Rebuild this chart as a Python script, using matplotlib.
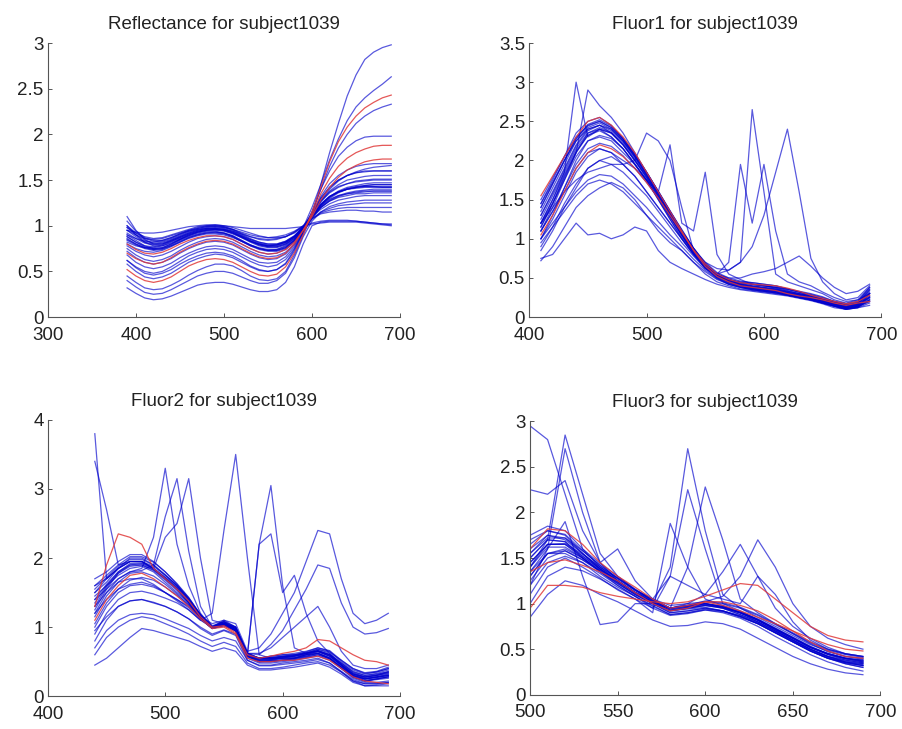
import numpy as np
import matplotlib.pyplot as plt

plt.rcParams['font.family'] = ['Liberation Sans', 'DejaVu Sans']

subject = 'subject1039'

# ---- Reflectance spectra (390-690 nm, 10 nm steps)
refl_wl = list(range(390, 700, 10))
refl_curves = [
    [1.10, 0.95, 0.85, 0.80, 0.80, 0.83, 0.87, 0.91, 0.94, 0.96, 0.97, 0.96, 0.93, 0.88, 0.83, 0.79, 0.77, 0.77, 0.80, 0.87, 0.97, 1.10, 1.22, 1.30, 1.36, 1.40, 1.42, 1.44, 1.45, 1.45, 1.45],
    [0.95, 0.93, 0.92, 0.92, 0.93, 0.95, 0.97, 0.99, 1.00, 1.01, 1.01, 1.00, 0.99, 0.98, 0.97, 0.97, 0.97, 0.97, 0.97, 0.98, 0.99, 1.02, 1.03, 1.04, 1.04, 1.04, 1.04, 1.03, 1.02, 1.01, 1.00],
    [0.90, 0.84, 0.78, 0.75, 0.76, 0.80, 0.85, 0.89, 0.92, 0.94, 0.94, 0.92, 0.88, 0.83, 0.78, 0.74, 0.72, 0.72, 0.75, 0.83, 0.96, 1.12, 1.28, 1.40, 1.49, 1.55, 1.59, 1.62, 1.64, 1.65, 1.66],
    [0.85, 0.80, 0.76, 0.74, 0.75, 0.78, 0.82, 0.86, 0.89, 0.91, 0.91, 0.90, 0.87, 0.83, 0.79, 0.76, 0.74, 0.74, 0.77, 0.84, 0.96, 1.09, 1.20, 1.27, 1.32, 1.35, 1.37, 1.38, 1.38, 1.38, 1.38],
    [0.70, 0.64, 0.60, 0.58, 0.60, 0.65, 0.71, 0.76, 0.80, 0.83, 0.84, 0.83, 0.80, 0.75, 0.70, 0.66, 0.64, 0.65, 0.70, 0.80, 0.95, 1.12, 1.35, 1.52, 1.65, 1.74, 1.80, 1.84, 1.87, 1.88, 1.88],
    [0.82, 0.78, 0.76, 0.76, 0.78, 0.82, 0.86, 0.90, 0.93, 0.95, 0.95, 0.94, 0.91, 0.87, 0.83, 0.80, 0.78, 0.79, 0.82, 0.88, 0.98, 1.20, 1.45, 1.72, 1.95, 2.15, 2.30, 2.40, 2.48, 2.55, 2.63],
    [0.45, 0.38, 0.32, 0.30, 0.31, 0.35, 0.40, 0.46, 0.51, 0.55, 0.58, 0.58, 0.56, 0.51, 0.45, 0.41, 0.40, 0.42, 0.50, 0.68, 0.90, 1.12, 1.45, 1.80, 2.12, 2.42, 2.65, 2.82, 2.90, 2.95, 2.98],
    [0.32, 0.26, 0.21, 0.19, 0.20, 0.23, 0.27, 0.31, 0.35, 0.37, 0.38, 0.38, 0.36, 0.33, 0.30, 0.28, 0.28, 0.30, 0.38, 0.55, 0.80, 1.00, 1.04, 1.05, 1.05, 1.05, 1.05, 1.04, 1.03, 1.02, 1.01],
    [0.52, 0.45, 0.40, 0.38, 0.40, 0.44, 0.50, 0.56, 0.60, 0.63, 0.64, 0.63, 0.60, 0.55, 0.50, 0.46, 0.45, 0.47, 0.55, 0.70, 0.90, 1.15, 1.42, 1.70, 1.92, 2.08, 2.20, 2.29, 2.35, 2.40, 2.43],
    [0.62, 0.54, 0.48, 0.46, 0.48, 0.52, 0.58, 0.63, 0.67, 0.70, 0.71, 0.70, 0.67, 0.62, 0.56, 0.52, 0.50, 0.52, 0.58, 0.72, 0.92, 1.15, 1.40, 1.65, 1.85, 2.00, 2.12, 2.20, 2.26, 2.30, 2.33],
    [0.80, 0.74, 0.70, 0.69, 0.71, 0.75, 0.80, 0.84, 0.87, 0.89, 0.89, 0.88, 0.85, 0.80, 0.75, 0.71, 0.69, 0.70, 0.74, 0.82, 0.95, 1.10, 1.28, 1.42, 1.53, 1.61, 1.66, 1.70, 1.72, 1.73, 1.73],
    [0.75, 0.68, 0.63, 0.61, 0.63, 0.67, 0.73, 0.78, 0.82, 0.85, 0.86, 0.85, 0.82, 0.77, 0.72, 0.68, 0.66, 0.67, 0.71, 0.80, 0.95, 1.15, 1.40, 1.60, 1.76, 1.86, 1.93, 1.97, 1.98, 1.98, 1.98],
    [0.98, 0.92, 0.88, 0.86, 0.87, 0.90, 0.93, 0.96, 0.99, 1.00, 1.01, 1.00, 0.98, 0.95, 0.92, 0.89, 0.87, 0.87, 0.88, 0.92, 0.99, 1.08, 1.13, 1.15, 1.16, 1.17, 1.17, 1.16, 1.16, 1.15, 1.15],
    [0.40, 0.33, 0.27, 0.25, 0.26, 0.30, 0.35, 0.40, 0.45, 0.48, 0.50, 0.50, 0.48, 0.44, 0.40, 0.37, 0.37, 0.40, 0.48, 0.65, 0.88, 1.05, 1.15, 1.21, 1.24, 1.26, 1.27, 1.28, 1.28, 1.28, 1.28],
    [0.88, 0.82, 0.77, 0.75, 0.76, 0.80, 0.85, 0.90, 0.93, 0.95, 0.96, 0.95, 0.92, 0.87, 0.82, 0.78, 0.76, 0.76, 0.79, 0.86, 0.98, 1.12, 1.26, 1.36, 1.42, 1.46, 1.49, 1.50, 1.51, 1.51, 1.51],
    [0.58, 0.50, 0.44, 0.42, 0.44, 0.48, 0.54, 0.60, 0.64, 0.67, 0.69, 0.68, 0.65, 0.60, 0.55, 0.51, 0.50, 0.52, 0.59, 0.74, 0.93, 1.10, 1.24, 1.32, 1.37, 1.40, 1.42, 1.43, 1.43, 1.42, 1.42],
    [1.00, 0.90, 0.82, 0.78, 0.78, 0.81, 0.85, 0.89, 0.93, 0.95, 0.96, 0.95, 0.92, 0.88, 0.83, 0.79, 0.77, 0.77, 0.80, 0.86, 0.98, 1.14, 1.30, 1.42, 1.50, 1.55, 1.58, 1.60, 1.60, 1.60, 1.60],
    [0.68, 0.60, 0.55, 0.53, 0.55, 0.59, 0.65, 0.70, 0.74, 0.77, 0.78, 0.77, 0.74, 0.69, 0.64, 0.60, 0.59, 0.60, 0.66, 0.77, 0.93, 1.08, 1.20, 1.27, 1.31, 1.33, 1.35, 1.35, 1.36, 1.36, 1.36],
    [0.92, 0.86, 0.81, 0.79, 0.80, 0.84, 0.88, 0.92, 0.95, 0.97, 0.98, 0.97, 0.94, 0.89, 0.84, 0.80, 0.78, 0.78, 0.81, 0.88, 0.98, 1.10, 1.20, 1.28, 1.33, 1.36, 1.38, 1.39, 1.40, 1.40, 1.40],
    [0.98, 0.90, 0.84, 0.81, 0.82, 0.85, 0.89, 0.93, 0.96, 0.98, 0.99, 0.98, 0.95, 0.90, 0.85, 0.81, 0.79, 0.79, 0.82, 0.88, 0.98, 1.11, 1.23, 1.32, 1.38, 1.42, 1.44, 1.46, 1.47, 1.47, 1.47],
    [0.86, 0.80, 0.76, 0.74, 0.75, 0.79, 0.84, 0.88, 0.91, 0.93, 0.93, 0.92, 0.89, 0.84, 0.79, 0.75, 0.73, 0.73, 0.76, 0.84, 0.96, 1.12, 1.27, 1.38, 1.45, 1.50, 1.52, 1.54, 1.55, 1.55, 1.55],
    [1.05, 0.94, 0.87, 0.84, 0.84, 0.87, 0.91, 0.95, 0.98, 1.00, 1.00, 0.99, 0.96, 0.92, 0.88, 0.85, 0.84, 0.85, 0.88, 0.93, 1.00, 1.10, 1.18, 1.24, 1.28, 1.30, 1.32, 1.33, 1.33, 1.33, 1.33],
    [0.80, 0.75, 0.72, 0.71, 0.73, 0.77, 0.82, 0.87, 0.90, 0.92, 0.93, 0.92, 0.89, 0.84, 0.79, 0.75, 0.73, 0.73, 0.76, 0.84, 0.97, 1.14, 1.32, 1.46, 1.55, 1.61, 1.65, 1.67, 1.68, 1.68, 1.68],
    [0.95, 0.90, 0.86, 0.85, 0.86, 0.89, 0.92, 0.95, 0.97, 0.99, 0.99, 0.98, 0.96, 0.93, 0.90, 0.88, 0.87, 0.88, 0.90, 0.94, 1.00, 1.08, 1.15, 1.19, 1.22, 1.23, 1.24, 1.25, 1.25, 1.25, 1.25],
    [0.88, 0.82, 0.78, 0.77, 0.79, 0.83, 0.87, 0.91, 0.94, 0.96, 0.96, 0.95, 0.92, 0.88, 0.83, 0.80, 0.78, 0.79, 0.82, 0.88, 0.98, 1.10, 1.22, 1.31, 1.37, 1.41, 1.43, 1.44, 1.45, 1.45, 1.45],
    [0.78, 0.72, 0.68, 0.66, 0.68, 0.72, 0.77, 0.82, 0.86, 0.88, 0.89, 0.88, 0.85, 0.80, 0.75, 0.71, 0.69, 0.70, 0.74, 0.82, 0.95, 1.10, 1.23, 1.32, 1.37, 1.40, 1.41, 1.42, 1.42, 1.42, 1.42],
    [0.90, 0.86, 0.83, 0.82, 0.84, 0.87, 0.91, 0.94, 0.96, 0.97, 0.97, 0.96, 0.94, 0.91, 0.88, 0.86, 0.85, 0.86, 0.88, 0.93, 0.99, 1.03, 1.05, 1.06, 1.06, 1.06, 1.05, 1.04, 1.03, 1.02, 1.02],
    [0.95, 0.88, 0.82, 0.80, 0.81, 0.84, 0.88, 0.92, 0.95, 0.97, 0.97, 0.96, 0.93, 0.89, 0.85, 0.82, 0.80, 0.80, 0.83, 0.89, 0.98, 1.10, 1.21, 1.29, 1.33, 1.35, 1.36, 1.37, 1.38, 1.38, 1.38],
    [0.62, 0.55, 0.50, 0.48, 0.50, 0.55, 0.61, 0.67, 0.71, 0.74, 0.75, 0.74, 0.71, 0.66, 0.61, 0.57, 0.55, 0.57, 0.63, 0.75, 0.93, 1.12, 1.30, 1.42, 1.50, 1.55, 1.58, 1.59, 1.60, 1.60, 1.60],
    [0.72, 0.65, 0.60, 0.58, 0.60, 0.64, 0.70, 0.75, 0.79, 0.82, 0.83, 0.82, 0.79, 0.74, 0.69, 0.65, 0.63, 0.64, 0.69, 0.79, 0.94, 1.07, 1.14, 1.17, 1.19, 1.20, 1.20, 1.20, 1.20, 1.20, 1.20],
    [1.00, 0.92, 0.86, 0.83, 0.83, 0.86, 0.90, 0.94, 0.97, 0.99, 1.00, 0.99, 0.96, 0.91, 0.86, 0.82, 0.80, 0.80, 0.83, 0.89, 0.99, 1.13, 1.27, 1.37, 1.43, 1.46, 1.48, 1.49, 1.50, 1.50, 1.50],
    [0.84, 0.79, 0.75, 0.73, 0.74, 0.78, 0.83, 0.87, 0.90, 0.92, 0.92, 0.91, 0.88, 0.83, 0.78, 0.75, 0.73, 0.74, 0.78, 0.85, 0.97, 1.11, 1.23, 1.32, 1.37, 1.40, 1.42, 1.43, 1.43, 1.43, 1.43],
]
refl_red = [4, 8, 10]

# ---- Fluor1 spectra (410-690 nm)
fl1_wl = list(range(410, 700, 10))
fl1_curves = [
    [1.55, 1.80, 2.05, 2.30, 2.50, 2.55, 2.45, 2.30, 2.10, 1.85, 1.60, 1.35, 1.10, 0.85, 0.65, 0.52, 0.45, 0.40, 0.38, 0.36, 0.34, 0.30, 0.27, 0.25, 0.22, 0.18, 0.15, 0.18, 0.20],
    [1.30, 1.60, 1.90, 2.20, 2.40, 2.45, 2.40, 2.25, 2.05, 1.82, 1.58, 1.32, 1.08, 0.85, 0.66, 0.53, 0.45, 0.40, 0.37, 0.35, 0.33, 0.30, 0.27, 0.24, 0.20, 0.15, 0.12, 0.15, 0.25],
    [1.20, 1.50, 1.85, 3.00, 2.30, 2.40, 2.35, 2.20, 2.00, 1.78, 1.55, 1.30, 1.05, 0.82, 0.63, 0.50, 0.42, 0.38, 0.35, 0.33, 0.31, 0.28, 0.25, 0.22, 0.18, 0.14, 0.10, 0.12, 0.30],
    [1.10, 1.40, 1.75, 2.10, 2.90, 2.70, 2.55, 2.35, 2.10, 1.85, 1.60, 1.35, 1.10, 0.88, 0.68, 0.55, 0.47, 0.42, 0.39, 0.37, 0.35, 0.32, 0.29, 0.26, 0.22, 0.17, 0.14, 0.18, 0.35],
    [0.95, 1.15, 1.35, 1.55, 1.70, 1.75, 1.70, 1.60, 1.45, 1.30, 1.10, 0.95, 0.85, 0.70, 0.55, 0.45, 0.40, 0.36, 0.34, 0.32, 0.30, 0.28, 0.25, 0.22, 0.18, 0.14, 0.11, 0.14, 0.20],
    [0.75, 0.80, 1.00, 1.20, 1.05, 1.07, 1.00, 1.05, 1.15, 1.10, 0.85, 0.70, 0.62, 0.55, 0.48, 0.42, 0.38, 0.35, 0.33, 0.31, 0.29, 0.27, 0.24, 0.21, 0.17, 0.12, 0.10, 0.12, 0.15],
    [1.20, 1.45, 1.75, 2.05, 2.25, 2.30, 2.25, 2.10, 1.95, 1.75, 1.50, 1.25, 1.00, 0.80, 0.62, 0.55, 0.60, 0.70, 2.65, 1.60, 0.55, 0.45, 0.40, 0.35, 0.30, 0.22, 0.18, 0.22, 0.38],
    [1.40, 1.70, 2.00, 2.25, 2.40, 2.45, 2.35, 2.20, 2.00, 1.80, 1.55, 1.30, 1.05, 0.85, 0.70, 0.62, 0.60, 0.70, 0.90, 1.30, 1.85, 2.40, 1.60, 0.75, 0.45, 0.30, 0.22, 0.25, 0.40],
    [1.10, 1.35, 1.60, 1.90, 2.10, 2.15, 2.10, 1.95, 1.80, 1.60, 1.40, 1.20, 1.00, 0.80, 0.65, 0.55, 0.70, 1.95, 1.20, 1.95, 1.10, 0.55, 0.45, 0.40, 0.32, 0.25, 0.20, 0.22, 0.30],
    [1.00, 1.25, 1.55, 1.85, 2.05, 2.15, 2.10, 2.00, 1.90, 1.75, 1.60, 2.20, 1.20, 1.10, 1.85, 0.80, 0.55, 0.48, 0.42, 0.40, 0.37, 0.33, 0.30, 0.27, 0.23, 0.17, 0.13, 0.16, 0.25],
    [1.20, 1.40, 1.60, 1.75, 1.85, 1.90, 1.95, 1.95, 2.00, 2.35, 2.25, 2.00, 1.40, 0.85, 0.65, 0.55, 0.48, 0.44, 0.42, 0.40, 0.38, 0.36, 0.33, 0.30, 0.26, 0.20, 0.15, 0.18, 0.30],
    [1.15, 1.45, 1.80, 2.10, 2.35, 2.40, 2.30, 2.15, 1.95, 1.75, 1.50, 1.25, 1.02, 0.82, 0.65, 0.55, 0.50, 0.50, 0.55, 0.58, 0.62, 0.70, 0.78, 0.65, 0.50, 0.38, 0.30, 0.33, 0.42],
    [1.05, 1.30, 1.60, 1.90, 2.10, 2.20, 2.15, 2.05, 1.90, 1.72, 1.52, 1.30, 1.08, 0.86, 0.68, 0.55, 0.48, 0.44, 0.42, 0.41, 0.40, 0.37, 0.33, 0.28, 0.24, 0.20, 0.17, 0.20, 0.28],
    [0.85, 1.10, 1.40, 1.65, 1.90, 2.00, 1.95, 1.85, 1.70, 1.55, 1.35, 1.15, 0.95, 0.78, 0.62, 0.50, 0.43, 0.39, 0.36, 0.34, 0.32, 0.29, 0.26, 0.23, 0.19, 0.14, 0.10, 0.13, 0.22],
    [1.45, 1.75, 2.05, 2.35, 2.50, 2.55, 2.45, 2.28, 2.08, 1.85, 1.60, 1.35, 1.12, 0.88, 0.68, 0.55, 0.48, 0.45, 0.44, 0.42, 0.40, 0.36, 0.32, 0.28, 0.24, 0.20, 0.17, 0.20, 0.38],
    [0.72, 0.90, 1.15, 1.40, 1.55, 1.65, 1.72, 1.65, 1.50, 1.30, 1.15, 1.00, 0.85, 0.70, 0.58, 0.48, 0.42, 0.38, 0.35, 0.33, 0.31, 0.28, 0.25, 0.22, 0.18, 0.14, 0.10, 0.12, 0.18],
    [1.35, 1.65, 1.95, 2.25, 2.42, 2.48, 2.40, 2.25, 2.05, 1.82, 1.58, 1.33, 1.08, 0.86, 0.67, 0.54, 0.46, 0.41, 0.38, 0.36, 0.34, 0.31, 0.28, 0.25, 0.21, 0.16, 0.13, 0.16, 0.28],
    [1.25, 1.55, 1.85, 2.15, 2.35, 2.42, 2.36, 2.22, 2.02, 1.80, 1.56, 1.31, 1.06, 0.84, 0.65, 0.52, 0.44, 0.40, 0.37, 0.35, 0.33, 0.30, 0.27, 0.24, 0.20, 0.16, 0.12, 0.14, 0.22],
    [1.50, 1.78, 2.05, 2.30, 2.45, 2.50, 2.42, 2.27, 2.06, 1.84, 1.60, 1.34, 1.09, 0.86, 0.67, 0.54, 0.47, 0.43, 0.40, 0.38, 0.36, 0.32, 0.29, 0.26, 0.22, 0.18, 0.15, 0.17, 0.30],
    [1.15, 1.45, 1.78, 2.10, 2.32, 2.40, 2.35, 2.20, 2.00, 1.78, 1.54, 1.30, 1.06, 0.84, 0.66, 0.53, 0.46, 0.41, 0.38, 0.36, 0.34, 0.31, 0.28, 0.25, 0.21, 0.17, 0.13, 0.15, 0.26],
    [1.40, 1.70, 2.00, 2.28, 2.46, 2.52, 2.44, 2.28, 2.08, 1.85, 1.60, 1.35, 1.10, 0.87, 0.68, 0.55, 0.48, 0.44, 0.42, 0.40, 0.38, 0.34, 0.30, 0.27, 0.23, 0.19, 0.16, 0.19, 0.32],
    [1.00, 1.30, 1.65, 2.00, 2.25, 2.32, 2.28, 2.15, 1.96, 1.75, 1.52, 1.28, 1.04, 0.82, 0.64, 0.52, 0.45, 0.40, 0.37, 0.35, 0.33, 0.30, 0.27, 0.24, 0.20, 0.16, 0.12, 0.14, 0.24],
    [1.30, 1.58, 1.88, 2.18, 2.38, 2.45, 2.38, 2.24, 2.04, 1.82, 1.58, 1.34, 1.10, 0.88, 0.70, 0.57, 0.50, 0.46, 0.44, 0.42, 0.40, 0.36, 0.32, 0.28, 0.24, 0.19, 0.15, 0.17, 0.30],
    [0.90, 1.15, 1.45, 1.70, 1.90, 2.00, 2.05, 1.95, 1.80, 1.60, 1.40, 1.20, 1.00, 0.80, 0.63, 0.51, 0.44, 0.39, 0.36, 0.34, 0.32, 0.29, 0.26, 0.23, 0.19, 0.15, 0.11, 0.13, 0.20],
    [1.00, 1.20, 1.40, 1.60, 1.75, 1.82, 1.80, 1.70, 1.55, 1.40, 1.22, 1.05, 0.90, 0.74, 0.60, 0.49, 0.42, 0.38, 0.35, 0.33, 0.31, 0.28, 0.25, 0.22, 0.18, 0.14, 0.11, 0.13, 0.22],
    [1.20, 1.50, 1.82, 2.12, 2.32, 2.38, 2.30, 2.15, 1.95, 1.74, 1.52, 1.28, 1.05, 0.83, 0.65, 0.53, 0.46, 0.42, 0.40, 0.38, 0.36, 0.33, 0.30, 0.27, 0.23, 0.19, 0.15, 0.18, 0.34],
    [1.10, 1.35, 1.65, 1.95, 2.15, 2.22, 2.18, 2.06, 1.90, 1.72, 1.52, 1.30, 1.08, 0.86, 0.68, 0.55, 0.48, 0.44, 0.42, 0.40, 0.38, 0.35, 0.32, 0.29, 0.25, 0.20, 0.17, 0.20, 0.36],
    [1.45, 1.72, 2.00, 2.28, 2.44, 2.50, 2.42, 2.27, 2.07, 1.85, 1.61, 1.36, 1.11, 0.88, 0.68, 0.55, 0.47, 0.42, 0.39, 0.37, 0.35, 0.31, 0.28, 0.25, 0.21, 0.17, 0.14, 0.16, 0.26],
]
fl1_red = [0, 12]

# ---- Fluor2 spectra (440-690 nm)
fl2_wl = list(range(440, 700, 10))
fl2_curves = [
    [3.80, 1.70, 1.85, 2.00, 2.00, 1.90, 1.75, 1.60, 1.40, 1.15, 1.00, 1.05, 0.95, 0.60, 0.55, 0.55, 0.55, 0.55, 0.60, 0.65, 0.60, 0.45, 0.30, 0.25, 0.28, 0.30],
    [3.40, 2.70, 1.90, 1.95, 1.95, 1.85, 1.70, 1.55, 1.35, 1.12, 0.98, 1.02, 0.95, 0.58, 0.52, 0.52, 0.52, 0.55, 0.58, 0.62, 0.55, 0.42, 0.28, 0.22, 0.25, 0.28],
    [1.40, 1.55, 1.70, 1.80, 1.85, 2.30, 3.30, 2.20, 1.60, 1.20, 1.00, 1.10, 1.00, 0.60, 0.55, 0.58, 0.60, 0.60, 0.62, 0.65, 0.58, 0.45, 0.32, 0.28, 0.30, 0.35],
    [1.20, 1.50, 1.70, 1.80, 1.82, 1.90, 2.60, 3.15, 2.10, 1.30, 1.00, 1.08, 0.95, 0.58, 0.50, 0.52, 0.55, 0.55, 0.60, 0.62, 0.55, 0.42, 0.30, 0.25, 0.27, 0.30],
    [1.60, 1.70, 1.85, 1.95, 1.95, 1.85, 2.30, 2.50, 3.15, 2.00, 1.10, 1.05, 1.00, 0.62, 0.55, 0.55, 0.57, 0.58, 0.62, 0.66, 0.60, 0.48, 0.35, 0.30, 0.32, 0.35],
    [1.30, 1.50, 1.65, 1.70, 1.70, 1.62, 1.50, 1.38, 1.25, 1.10, 1.20, 2.40, 3.50, 2.00, 0.60, 0.55, 0.55, 0.58, 0.60, 0.62, 0.55, 0.40, 0.28, 0.22, 0.25, 0.28],
    [1.50, 1.65, 1.85, 1.95, 1.95, 1.85, 1.72, 1.58, 1.40, 1.18, 1.00, 1.05, 0.95, 0.60, 2.20, 3.05, 1.60, 0.70, 0.62, 0.65, 0.58, 0.45, 0.32, 0.26, 0.28, 0.32],
    [1.00, 1.30, 1.50, 1.60, 1.62, 1.58, 1.50, 1.40, 1.30, 1.15, 1.05, 1.10, 1.05, 0.65, 0.70, 0.90, 1.20, 1.50, 1.95, 2.40, 2.35, 1.70, 1.20, 1.05, 1.10, 1.20],
    [1.20, 1.40, 1.55, 1.62, 1.65, 1.60, 1.50, 1.40, 1.28, 1.12, 1.00, 1.05, 0.98, 0.62, 0.60, 0.75, 0.95, 1.25, 1.55, 1.90, 1.85, 1.35, 1.00, 0.90, 0.92, 0.98],
    [0.90, 1.20, 1.40, 1.50, 1.52, 1.48, 1.42, 1.35, 1.25, 1.10, 1.00, 1.05, 0.95, 0.60, 2.20, 2.35, 1.50, 1.75, 1.20, 0.80, 0.62, 0.45, 0.30, 0.25, 0.27, 0.30],
    [0.45, 0.55, 0.70, 0.85, 0.98, 0.95, 0.90, 0.85, 0.80, 0.72, 0.65, 0.70, 0.65, 0.45, 0.38, 0.38, 0.40, 0.42, 0.45, 0.48, 0.42, 0.32, 0.20, 0.15, 0.16, 0.18],
    [1.30, 1.90, 2.35, 2.30, 2.20, 1.85, 1.70, 1.55, 1.38, 1.15, 1.00, 1.02, 0.92, 0.60, 0.55, 0.58, 0.62, 0.65, 0.70, 0.82, 0.80, 0.70, 0.60, 0.52, 0.50, 0.45],
    [1.10, 1.40, 1.60, 1.75, 1.78, 1.70, 1.58, 1.45, 1.30, 1.12, 0.98, 1.00, 0.90, 0.55, 0.50, 0.50, 0.52, 0.52, 0.55, 0.58, 0.52, 0.40, 0.28, 0.22, 0.20, 0.18],
    [0.80, 1.10, 1.30, 1.38, 1.40, 1.35, 1.30, 1.22, 1.12, 0.98, 0.88, 0.95, 0.88, 0.52, 0.45, 0.45, 0.48, 0.50, 0.52, 0.55, 0.48, 0.35, 0.22, 0.18, 0.18, 0.20],
    [1.70, 1.80, 1.95, 2.05, 2.05, 1.95, 1.80, 1.62, 1.42, 1.18, 1.02, 1.08, 1.00, 0.62, 0.55, 0.58, 0.60, 0.62, 0.65, 0.70, 0.65, 0.50, 0.38, 0.32, 0.35, 0.40],
    [0.60, 0.85, 1.00, 1.10, 1.15, 1.12, 1.05, 0.98, 0.90, 0.80, 0.72, 0.78, 0.72, 0.48, 0.40, 0.40, 0.42, 0.45, 0.48, 0.50, 0.45, 0.35, 0.22, 0.15, 0.15, 0.15],
    [1.45, 1.60, 1.75, 1.85, 1.88, 1.80, 1.65, 1.50, 1.35, 1.12, 0.98, 1.02, 0.95, 0.62, 0.62, 0.70, 0.85, 1.00, 1.15, 1.30, 1.00, 0.65, 0.45, 0.40, 0.40, 0.45],
    [1.50, 1.70, 1.85, 1.95, 1.95, 1.88, 1.75, 1.60, 1.42, 1.18, 1.00, 1.05, 0.98, 0.60, 0.52, 0.53, 0.55, 0.56, 0.60, 0.64, 0.58, 0.45, 0.32, 0.27, 0.30, 0.33],
    [1.35, 1.60, 1.80, 1.92, 1.93, 1.85, 1.72, 1.57, 1.38, 1.15, 0.99, 1.04, 0.96, 0.58, 0.50, 0.51, 0.53, 0.55, 0.58, 0.62, 0.56, 0.43, 0.30, 0.25, 0.28, 0.31],
    [1.25, 1.55, 1.78, 1.90, 1.92, 1.84, 1.70, 1.55, 1.36, 1.14, 0.98, 1.06, 0.98, 0.60, 0.53, 0.54, 0.57, 0.58, 0.62, 0.66, 0.60, 0.47, 0.34, 0.28, 0.30, 0.34],
    [1.55, 1.72, 1.88, 1.98, 1.98, 1.90, 1.76, 1.60, 1.40, 1.17, 1.01, 1.07, 0.99, 0.62, 0.55, 0.56, 0.58, 0.60, 0.63, 0.68, 0.62, 0.48, 0.36, 0.30, 0.33, 0.38],
    [1.15, 1.45, 1.65, 1.78, 1.80, 1.74, 1.62, 1.48, 1.32, 1.12, 0.98, 1.03, 0.94, 0.57, 0.50, 0.50, 0.52, 0.53, 0.56, 0.60, 0.54, 0.41, 0.28, 0.22, 0.24, 0.26],
    [1.40, 1.62, 1.80, 1.90, 1.90, 1.82, 1.68, 1.53, 1.35, 1.13, 0.98, 1.04, 0.96, 0.60, 0.54, 0.55, 0.57, 0.59, 0.62, 0.66, 0.60, 0.46, 0.33, 0.28, 0.31, 0.36],
    [1.05, 1.35, 1.55, 1.68, 1.72, 1.68, 1.58, 1.46, 1.32, 1.14, 1.00, 1.04, 0.95, 0.58, 0.50, 0.50, 0.52, 0.54, 0.57, 0.60, 0.54, 0.42, 0.29, 0.23, 0.25, 0.28],
    [1.60, 1.75, 1.90, 2.02, 2.02, 1.94, 1.80, 1.63, 1.43, 1.18, 1.00, 1.06, 0.97, 0.59, 0.52, 0.53, 0.56, 0.58, 0.62, 0.68, 0.64, 0.52, 0.40, 0.34, 0.36, 0.42],
    [0.95, 1.15, 1.30, 1.38, 1.40, 1.36, 1.30, 1.22, 1.12, 1.00, 0.90, 0.96, 0.90, 0.55, 0.48, 0.48, 0.50, 0.52, 0.55, 0.58, 0.52, 0.40, 0.26, 0.20, 0.20, 0.22],
    [0.70, 0.95, 1.10, 1.18, 1.20, 1.18, 1.12, 1.05, 0.98, 0.88, 0.80, 0.85, 0.80, 0.52, 0.44, 0.44, 0.46, 0.48, 0.50, 0.53, 0.48, 0.36, 0.24, 0.18, 0.18, 0.20],
    [1.30, 1.58, 1.78, 1.88, 1.90, 1.83, 1.70, 1.56, 1.38, 1.15, 1.00, 1.08, 1.00, 0.62, 0.55, 0.56, 0.58, 0.60, 0.64, 0.70, 0.66, 0.52, 0.40, 0.33, 0.35, 0.40],
]
fl2_red = [11, 12]

# ---- Fluor3 spectra (500-690 nm)
fl3_wl = list(range(500, 700, 10))
fl3_curves = [
    [1.60, 1.82, 1.80, 1.65, 1.45, 1.30, 1.18, 1.05, 0.95, 0.98, 1.02, 0.98, 0.92, 0.85, 0.78, 0.70, 0.62, 0.55, 0.50, 0.48],
    [2.95, 2.80, 2.20, 1.60, 1.40, 1.25, 1.12, 1.02, 0.92, 0.95, 0.98, 0.95, 0.90, 0.82, 0.72, 0.62, 0.52, 0.45, 0.40, 0.38],
    [1.40, 1.70, 2.85, 2.20, 1.55, 1.30, 1.15, 1.05, 0.95, 0.98, 1.00, 0.95, 0.88, 0.80, 0.70, 0.60, 0.50, 0.42, 0.38, 0.35],
    [1.20, 1.60, 2.70, 2.00, 1.45, 1.25, 1.12, 1.00, 0.90, 0.92, 0.95, 0.92, 0.85, 0.78, 0.68, 0.58, 0.48, 0.40, 0.35, 0.32],
    [2.25, 2.20, 2.35, 1.80, 1.45, 1.60, 1.25, 1.05, 0.95, 0.98, 1.00, 0.96, 0.90, 0.82, 0.72, 0.62, 0.52, 0.45, 0.40, 0.36],
    [1.50, 1.70, 1.68, 1.50, 1.35, 1.22, 1.10, 1.00, 1.40, 2.70, 1.80, 1.10, 0.95, 0.85, 0.75, 0.65, 0.55, 0.48, 0.42, 0.40],
    [1.30, 1.55, 1.55, 1.45, 1.30, 1.18, 1.08, 0.95, 1.30, 2.25, 1.60, 1.00, 0.92, 0.82, 0.72, 0.62, 0.52, 0.45, 0.40, 0.38],
    [1.70, 1.80, 1.75, 1.55, 1.38, 1.25, 1.12, 1.02, 0.95, 1.40, 2.28, 1.70, 1.05, 0.90, 0.78, 0.68, 0.58, 0.50, 0.45, 0.42],
    [1.10, 1.40, 1.50, 1.40, 1.28, 1.15, 1.05, 0.90, 1.88, 1.40, 1.05, 0.98, 0.90, 0.80, 0.70, 0.60, 0.50, 0.42, 0.36, 0.32],
    [1.45, 1.65, 1.65, 1.50, 1.35, 1.22, 1.10, 1.00, 0.95, 1.00, 1.10, 1.35, 1.65, 1.30, 0.95, 0.75, 0.62, 0.52, 0.45, 0.42],
    [1.55, 1.75, 1.72, 1.55, 1.40, 1.28, 1.15, 1.05, 0.98, 1.00, 1.02, 1.08, 1.30, 1.70, 1.40, 1.00, 0.75, 0.62, 0.55, 0.50],
    [0.95, 1.20, 1.20, 1.18, 1.12, 1.08, 1.05, 1.02, 1.00, 1.02, 1.08, 1.15, 1.22, 1.20, 1.05, 0.90, 0.75, 0.65, 0.60, 0.58],
    [1.35, 1.60, 1.90, 1.30, 0.77, 0.80, 1.00, 1.00, 0.92, 0.94, 0.96, 0.92, 0.86, 0.78, 0.68, 0.58, 0.48, 0.40, 0.36, 0.34],
    [0.85, 1.10, 1.25, 1.20, 1.10, 1.02, 0.92, 0.82, 0.75, 0.76, 0.80, 0.78, 0.72, 0.62, 0.52, 0.42, 0.34, 0.28, 0.24, 0.22],
    [1.35, 1.45, 1.48, 1.42, 1.35, 1.25, 1.12, 1.00, 0.92, 0.95, 1.02, 1.02, 0.98, 0.92, 0.82, 0.70, 0.58, 0.48, 0.42, 0.40],
    [1.60, 1.75, 1.70, 1.55, 1.38, 1.25, 1.12, 1.00, 0.90, 0.92, 0.95, 0.92, 0.86, 0.78, 0.68, 0.58, 0.48, 0.40, 0.34, 0.30],
    [1.25, 1.50, 1.58, 1.48, 1.35, 1.20, 1.08, 0.98, 0.88, 0.90, 0.93, 0.90, 0.84, 0.75, 0.64, 0.54, 0.44, 0.36, 0.30, 0.26],
    [1.40, 1.65, 1.65, 1.52, 1.38, 1.25, 1.12, 1.05, 1.30, 1.20, 1.10, 1.05, 1.00, 1.30, 1.10, 0.80, 0.60, 0.50, 0.45, 0.42],
    [1.50, 1.70, 1.68, 1.52, 1.38, 1.25, 1.12, 1.01, 0.92, 0.95, 0.98, 0.95, 0.88, 0.80, 0.70, 0.60, 0.50, 0.42, 0.37, 0.34],
    [1.40, 1.62, 1.62, 1.50, 1.36, 1.23, 1.10, 1.00, 0.93, 0.96, 1.00, 0.97, 0.91, 0.83, 0.73, 0.63, 0.53, 0.45, 0.40, 0.37],
    [1.65, 1.80, 1.76, 1.58, 1.42, 1.28, 1.15, 1.04, 0.95, 0.97, 1.00, 0.97, 0.91, 0.83, 0.73, 0.63, 0.53, 0.45, 0.40, 0.37],
    [1.30, 1.55, 1.60, 1.50, 1.37, 1.24, 1.12, 1.01, 0.93, 0.95, 0.98, 0.96, 0.90, 0.82, 0.72, 0.62, 0.52, 0.44, 0.38, 0.35],
    [1.55, 1.72, 1.72, 1.58, 1.42, 1.28, 1.15, 1.03, 0.94, 0.96, 0.99, 0.96, 0.90, 0.82, 0.72, 0.62, 0.52, 0.44, 0.39, 0.36],
    [1.20, 1.45, 1.52, 1.45, 1.33, 1.20, 1.08, 0.97, 0.88, 0.90, 0.94, 0.92, 0.87, 0.79, 0.69, 0.59, 0.49, 0.41, 0.35, 0.32],
    [1.45, 1.65, 1.66, 1.54, 1.40, 1.27, 1.14, 1.03, 0.95, 0.98, 1.02, 1.00, 0.95, 0.87, 0.77, 0.67, 0.57, 0.49, 0.44, 0.41],
    [1.75, 1.85, 1.80, 1.60, 1.44, 1.30, 1.16, 1.04, 0.95, 0.97, 1.00, 0.97, 0.90, 0.82, 0.71, 0.60, 0.50, 0.42, 0.36, 0.33],
    [1.00, 1.30, 1.40, 1.36, 1.27, 1.16, 1.05, 0.95, 0.87, 0.89, 0.93, 0.91, 0.86, 0.78, 0.68, 0.58, 0.48, 0.40, 0.34, 0.30],
    [1.35, 1.55, 1.58, 1.48, 1.36, 1.24, 1.12, 1.02, 0.95, 0.98, 1.03, 1.01, 0.96, 0.88, 0.78, 0.67, 0.56, 0.47, 0.42, 0.39],
]
fl3_red = [0, 11, 14]

panels = [
    ('Reflectance', refl_wl, refl_curves, refl_red, (300, 700), [300, 400, 500, 600, 700], (0, 3), [0, 0.5, 1, 1.5, 2, 2.5, 3]),
    ('Fluor1', fl1_wl, fl1_curves, fl1_red, (400, 700), [400, 500, 600, 700], (0, 3.5), [0, 0.5, 1, 1.5, 2, 2.5, 3, 3.5]),
    ('Fluor2', fl2_wl, fl2_curves, fl2_red, (400, 700), [400, 500, 600, 700], (0, 4), [0, 1, 2, 3, 4]),
    ('Fluor3', fl3_wl, fl3_curves, fl3_red, (500, 700), [500, 550, 600, 650, 700], (0, 3), [0, 0.5, 1, 1.5, 2, 2.5, 3]),
]

# axes rectangles in figure fractions
rects = [
    [0.053, 0.565, 0.390, 0.376],
    [0.586, 0.565, 0.390, 0.376],
    [0.053, 0.045, 0.390, 0.379],
    [0.587, 0.047, 0.388, 0.375],
]

fig = plt.figure(figsize=(9.03, 7.29), dpi=100)

for (name, wl, curves, red, xlim, xticks, ylim, yticks), rect in zip(panels, rects):
    ax = fig.add_axes(rect)
    for i, c in enumerate(curves):
        if i in red:
            continue
        ax.plot(wl, c, color='#0000cc', lw=0.9, alpha=0.65)
    for i in red:
        ax.plot(wl, curves[i], color='#e03a3a', lw=0.9, alpha=0.85)
    ax.set_xlim(*xlim)
    ax.set_ylim(*ylim)
    ax.set_xticks(xticks)
    ax.set_yticks(yticks)
    ax.set_yticklabels([f'{t:g}' for t in yticks])
    ax.spines['top'].set_visible(False)
    ax.spines['right'].set_visible(False)
    for s in ('left', 'bottom'):
        ax.spines[s].set_color('#555555')
        ax.spines[s].set_linewidth(0.8)
    ax.tick_params(direction='in', length=3, width=0.7, color='#555555',
                   labelsize=13.5, labelcolor='#222222')
    ax.tick_params(axis='x', pad=7)
    ax.tick_params(axis='y', pad=3)
    ax.set_title(f'{name} for {subject}', fontsize=13.5, color='#222222', pad=10)

fig.savefig('out.png', dpi=100)
